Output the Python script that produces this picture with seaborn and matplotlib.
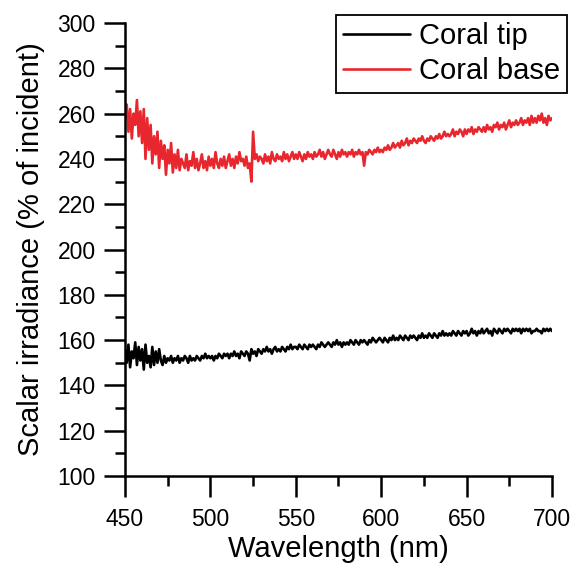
import numpy as np
import pandas as pd
import matplotlib
matplotlib.use("Agg")
import matplotlib.pyplot as plt
import seaborn as sns
from matplotlib.ticker import MultipleLocator
from matplotlib.lines import Line2D

# wavelength grid, 1 nm steps
wavelength = np.arange(450, 701)

coral_base = [
    258, 264, 252, 262, 249, 260, 255, 266, 250, 261,
    247, 262, 240, 258, 244, 255, 238, 250, 242, 252,
    236, 248, 240, 246, 233, 244, 238, 247, 234, 242,
    236, 244, 235, 240, 238, 236, 242, 235, 239, 237,
    243, 236, 240, 235, 238, 242, 236, 239, 235, 241,
    237, 240, 236, 243, 238, 236, 240, 237, 241, 236,
    239, 242, 237, 240, 236, 241, 238, 243, 239, 240,
    237, 241, 236, 238, 230, 252, 240, 242, 239, 241,
    240, 238, 242, 239, 241, 238, 243, 240, 239, 242,
    240, 241, 239, 243, 240, 242, 239, 241, 243, 240,
    242, 240, 243, 241, 239, 242, 240, 243, 241, 242,
    240, 243, 241, 242, 244, 241, 243, 240, 242, 244,
    242, 241, 244, 242, 240, 243, 241, 244, 242, 243,
    241, 243, 242, 244, 241, 243, 242, 244, 242, 243,
    237, 243, 242, 244, 243, 242, 244, 243, 245, 243,
    244, 243, 245, 244, 246, 244, 245, 247, 245, 246,
    247, 245, 248, 246, 247, 249, 246, 248, 247, 249,
    248, 247, 249, 248, 250, 248, 247, 249, 248, 250,
    249, 248, 250, 249, 251, 249, 250, 252, 250, 251,
    250, 251, 253, 250, 252, 251, 253, 252, 250, 253,
    251, 253, 252, 254, 251, 253, 252, 254, 253, 252,
    254, 252, 255, 253, 254, 252, 255, 254, 256, 253,
    255, 254, 256, 253, 255, 257, 254, 256, 255, 257,
    255, 256, 258, 255, 257, 256, 258, 255, 259, 256,
    258, 256, 259, 257, 260, 256, 258, 255, 259, 257,
    258,
]

coral_tip = [
    156, 150, 158, 148, 155, 152, 159, 149, 157, 151,
    156, 147, 158, 150, 153, 148, 157, 149, 155, 150,
    156, 151, 149, 153, 150, 152, 151, 153, 150, 152,
    151, 153, 150, 152, 151, 153, 152, 150, 153, 151,
    152, 151, 153, 152, 151, 153, 152, 154, 152, 153,
    152, 153, 151, 153, 152, 154, 153, 152, 154, 153,
    154, 152, 154, 153, 155, 153, 154, 152, 155, 154,
    153, 155, 154, 151, 156, 154, 155, 153, 156, 155,
    154, 156, 155, 157, 155, 156, 154, 156, 157, 155,
    156, 155, 157, 156, 155, 157, 156, 158, 156, 157,
    157, 156, 158, 157, 156, 158, 157, 156, 158, 157,
    158, 157, 156, 158, 157, 159, 158, 157, 158, 159,
    158, 157, 159, 158, 160, 158, 159, 157, 159, 158,
    159, 158, 160, 159, 158, 160, 159, 158, 160, 159,
    160, 159, 158, 160, 159, 161, 160, 159, 160, 161,
    160, 159, 161, 160, 159, 161, 160, 162, 160, 161,
    160, 162, 161, 160, 162, 161, 160, 162, 161, 162,
    161, 160, 162, 161, 163, 161, 162, 161, 163, 162,
    161, 163, 162, 161, 163, 162, 164, 162, 163, 162,
    163, 162, 164, 163, 162, 164, 163, 162, 164, 163,
    164, 162, 163, 165, 163, 164, 162, 164, 163, 165,
    163, 164, 165, 163, 164, 162, 165, 164, 163, 165,
    164, 163, 165, 164, 165, 164, 163, 165, 164, 165,
    164, 165, 163, 165, 164, 165, 164, 165, 163, 164,
    164, 165, 164, 164, 163, 165, 164, 165, 164, 165,
    164,
]

df = pd.DataFrame({
    "wavelength": np.concatenate([wavelength, wavelength]),
    "value": coral_tip + coral_base,
    "series": ["Coral tip"] * len(coral_tip) + ["Coral base"] * len(coral_base),
})

sns.set_style("ticks")
plt.rcParams["font.family"] = ["Liberation Sans", "DejaVu Sans"]
plt.rcParams["text.color"] = "black"
plt.rcParams["axes.labelcolor"] = "black"

fig = plt.figure(figsize=(5.8, 5.69), dpi=100)
ax = fig.add_axes([0.2155, 0.1634, 0.7362, 0.7962])

sns.lineplot(data=df, x="wavelength", y="value", hue="series",
             palette={"Coral tip": "black", "Coral base": "#e8262d"},
             linewidth=1.9, ax=ax, legend=False)

ax.set_xlim(450, 700)
ax.set_ylim(100, 300)
ax.xaxis.set_major_locator(MultipleLocator(50))
ax.xaxis.set_minor_locator(MultipleLocator(25))
ax.yaxis.set_major_locator(MultipleLocator(20))
ax.yaxis.set_minor_locator(MultipleLocator(10))
ax.tick_params(which="major", length=15, width=1.8, labelsize=16.5,
               color="black", labelcolor="black")
ax.tick_params(which="minor", length=7.5, width=1.8, color="black")
ax.tick_params(axis="x", which="major", pad=8)
ax.tick_params(axis="y", which="major", pad=6)
for side in ["left", "bottom"]:
    ax.spines[side].set_linewidth(1.8)
    ax.spines[side].set_color("black")
sns.despine(ax=ax)

ax.set_xlabel("Wavelength (nm)", fontsize=21, labelpad=3)
ax.set_ylabel("Scalar irradiance (% of incident)", fontsize=21, labelpad=9)

handles = [Line2D([], [], color="black", linewidth=1.9),
           Line2D([], [], color="#e8262d", linewidth=1.9)]
leg = fig.legend(handles, ["Coral tip", "Coral base"], loc="upper right",
                 bbox_to_anchor=(0.978, 0.974), fontsize=21, frameon=True,
                 fancybox=False, handlelength=2.3, handletextpad=0.3,
                 borderpad=0.25, labelspacing=0.25, borderaxespad=0)
leg.get_frame().set_edgecolor("black")
leg.get_frame().set_linewidth(1.3)
leg.get_frame().set_alpha(1)

fig.savefig("out.png", dpi=100)
